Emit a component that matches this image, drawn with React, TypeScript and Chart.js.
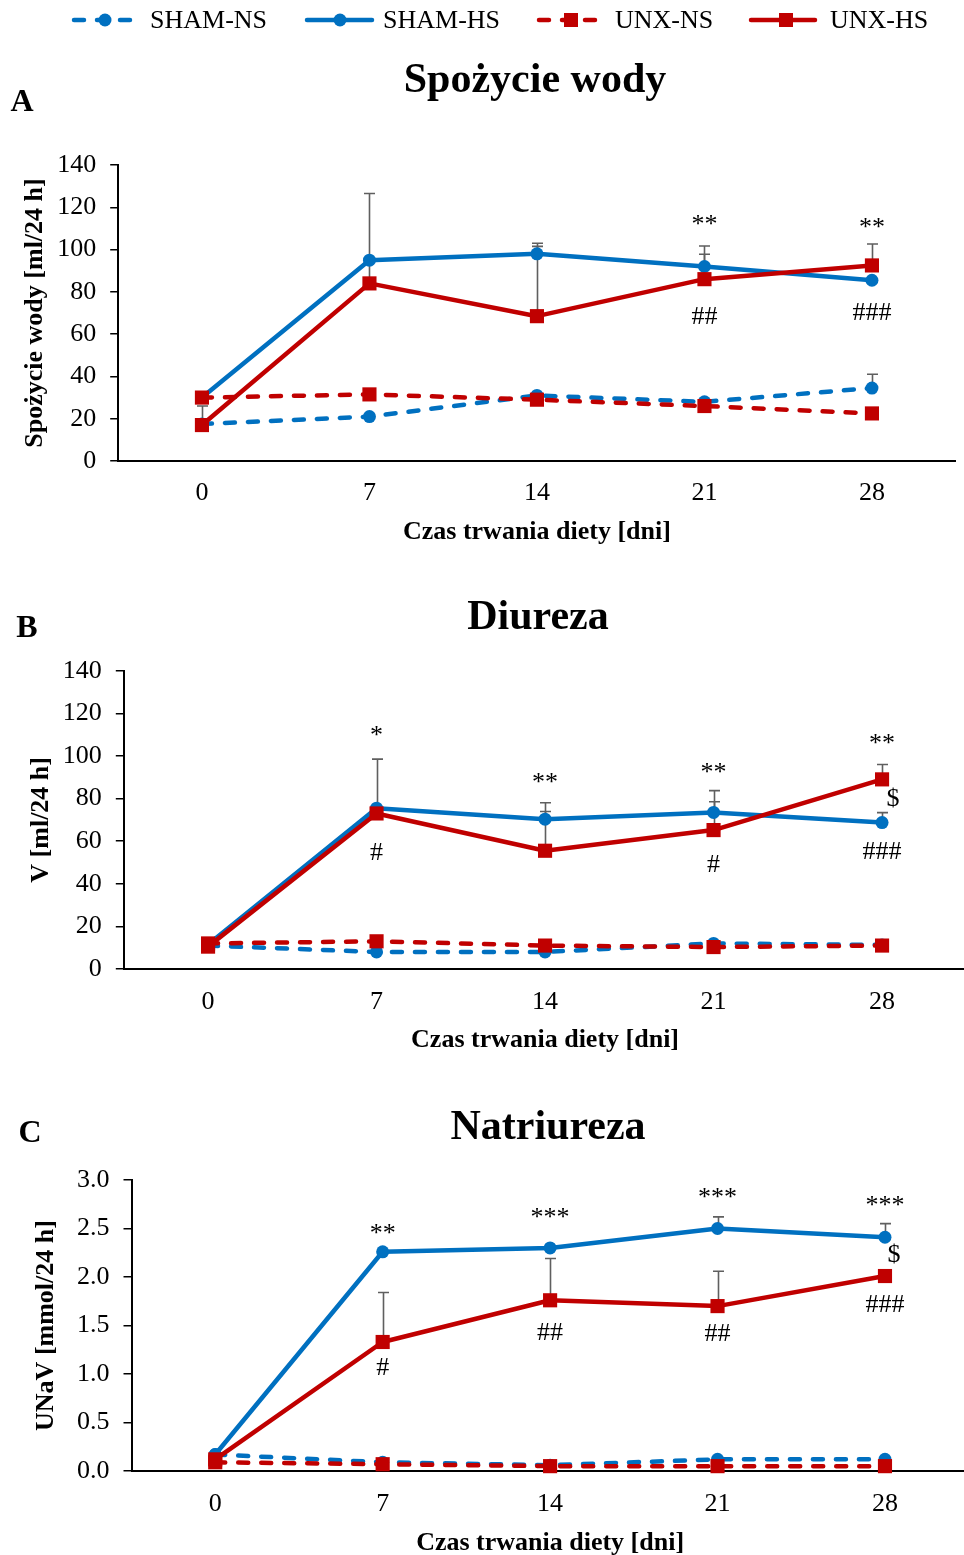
import React, { useEffect, useRef } from 'react';
import { Chart, registerables } from 'chart.js';

Chart.register(...registerables);

// ---------- data ----------
const days = ['0', '7', '14', '21', '28'];
const seriesNames = ['SHAM-NS', 'SHAM-HS', 'UNX-NS', 'UNX-HS'];

// Panel A – Spożycie wody [ml/24 h]
const waterShamNS = [17.5, 21, 31, 28, 34.5];
const waterShamHS = [30, 95, 98, 92, 85.5];
const waterUnxNS = [30, 31.5, 29, 26, 22.5];
const waterUnxHS = [17, 84, 68.5, 86, 92.5];
const waterShamNSsd = [8.5, 0, 0, 0, 6.5];
const waterShamHSsd = [0, 0, 3.5, 5.8, 0];
const waterUnxNSsd = [0, 0, 0, 0, 0];
const waterUnxHSsd = [0, 42.5, 34.5, 15.7, 10.1];
const waterMarks = [
  { day: '21', value: 111.4, text: '**' },
  { day: '28', value: 109.9, text: '**' },
  { day: '21', value: 68, text: '##' },
  { day: '28', value: 70, text: '###' },
];

// Panel B – Diureza V [ml/24 h]
const urineShamNS = [11, 8, 8, 12, 11.3];
const urineShamHS = [11.5, 75.5, 70.3, 73.5, 68.7];
const urineUnxNS = [12, 13, 11, 10.3, 11];
const urineUnxHS = [10.5, 73, 55.5, 65.2, 89];
const urineShamNSsd = [0, 0, 0, 0, 0];
const urineShamHSsd = [0, 23, 3.6, 5, 4.7];
const urineUnxNSsd = [0, 0, 0, 0, 0];
const urineUnxHSsd = [0, 0, 22.5, 18.5, 7];
const urineMarks = [
  { day: '7', value: 109.1, text: '*' },
  { day: '7', value: 54.4, text: '#' },
  { day: '14', value: 87.3, text: '**' },
  { day: '21', value: 91.7, text: '**' },
  { day: '21', value: 48.8, text: '#' },
  { day: '28', value: 105.3, text: '**' },
  { day: '28', value: 79.6, text: '$', dx: 11 },
  { day: '28', value: 54.6, text: '###' },
];

// Panel C – Natriureza UNaV [mmol/24 h]
const sodiumShamNS = [0.17, 0.09, 0.06, 0.12, 0.12];
const sodiumShamHS = [0.17, 2.26, 2.3, 2.5, 2.41];
const sodiumUnxNS = [0.09, 0.07, 0.05, 0.05, 0.05];
const sodiumUnxHS = [0.12, 1.33, 1.76, 1.7, 2.01];
const sodiumShamNSsd = [0, 0, 0, 0, 0];
const sodiumShamHSsd = [0, 0, 0, 0.12, 0.14];
const sodiumUnxNSsd = [0, 0, 0, 0, 0];
const sodiumUnxHSsd = [0, 0.51, 0.43, 0.36, 0];
const sodiumMarks = [
  { day: '7', value: 2.44, text: '**' },
  { day: '7', value: 1.06, text: '#' },
  { day: '14', value: 2.61, text: '***' },
  { day: '14', value: 1.42, text: '##' },
  { day: '21', value: 2.81, text: '***' },
  { day: '21', value: 1.41, text: '##' },
  { day: '28', value: 2.73, text: '***' },
  { day: '28', value: 2.23, text: '$', dx: 9 },
  { day: '28', value: 1.71, text: '###' },
];

// ---------- styles ----------
const BLUE = '#0070C0';
const RED = '#C00000';
const ERR = '#5f5f5f';
const FONT = "'Liberation Serif', 'Times New Roman', serif";
const W = 964;
const CANVAS_W = 980; // wider than the page; the overflow is clipped

const seriesStyles = [
  { color: BLUE, dash: true, point: 'circle' },
  { color: BLUE, dash: false, point: 'circle' },
  { color: RED, dash: true, point: 'rect' },
  { color: RED, dash: false, point: 'rect' },
];

type Mark = { day: string; value: number; text: string; dx?: number };
type Panel = {
  title: string;
  letter: string;
  yTitle: string;
  series: number[][];
  sd: number[][];
  marks: Mark[];
  yMax: number;
  yStep: number;
  decimals: number;
  top: number;
  height: number;
  area: { left: number; top: number; right: number; bottom: number };
  yTitlePad: number;
  xTitlePad: number;
  xTickGap: number;
  titleX: number;
  titleY: number;
  letterX: number;
  letterY: number;
  legend: boolean;
};

const panels: Panel[] = [
  {
    title: 'Spożycie wody', letter: 'A', yTitle: 'Spożycie wody [ml/24 h]',
    series: [waterShamNS, waterShamHS, waterUnxNS, waterUnxHS],
    sd: [waterShamNSsd, waterShamHSsd, waterUnxNSsd, waterUnxHSsd],
    marks: waterMarks, yMax: 140, yStep: 20, decimals: 0,
    top: 0, height: 560, area: { left: 118.2, top: 165, right: 955.7, bottom: 461 },
    yTitlePad: 19.4, xTitlePad: 12.4, xTickGap: 16.4, titleX: 535, titleY: 81, letterX: 22, letterY: 103, legend: true,
  },
  {
    title: 'Diureza', letter: 'B', yTitle: 'V [ml/24 h]',
    series: [urineShamNS, urineShamHS, urineUnxNS, urineUnxHS],
    sd: [urineShamNSsd, urineShamHSsd, urineUnxNSsd, urineUnxHSsd],
    marks: urineMarks, yMax: 140, yStep: 20, decimals: 0,
    top: 560, height: 500, area: { left: 123.8, top: 110.7, right: 966.3, bottom: 409 },
    yTitlePad: 25.2, xTitlePad: 4.4, xTickGap: 17.4, titleX: 538, titleY: 58, letterX: 27, letterY: 69, legend: false,
  },
  {
    title: 'Natriureza', letter: 'C', yTitle: 'UNaV [mmol/24 h]',
    series: [sodiumShamNS, sodiumShamHS, sodiumUnxNS, sodiumUnxHS],
    sd: [sodiumShamNSsd, sodiumShamHSsd, sodiumUnxNSsd, sodiumUnxHSsd],
    marks: sodiumMarks, yMax: 3, yStep: 0.5, decimals: 1,
    top: 1060, height: 495, area: { left: 131.5, top: 120, right: 968.7, bottom: 411 },
    yTitlePad: 30.7, xTitlePad: -3.6, xTickGap: 17.4, titleX: 548, titleY: 68, letterX: 30, letterY: 74, legend: false,
  },
];

// ---------- plugins ----------
function drawMarker(ctx: CanvasRenderingContext2D, kind: string, color: string, x: number, y: number) {
  ctx.fillStyle = color;
  ctx.beginPath();
  if (kind === 'circle') {
    ctx.arc(x, y, 6.5, 0, Math.PI * 2);
  } else {
    ctx.rect(x - 7, y - 7, 14, 14);
  }
  ctx.fill();
}

function makePlugins(p: Panel) {
  const errorBars = {
    id: 'errorBars',
    beforeDatasetsDraw(chart: any) {
      const { ctx } = chart;
      const yScale = chart.scales.y;
      ctx.save();
      ctx.strokeStyle = ERR;
      ctx.lineWidth = 1.6;
      p.sd.forEach((sdArr, i) => {
        const meta = chart.getDatasetMeta(i);
        sdArr.forEach((e, j) => {
          if (!e) return;
          const pt = meta.data[j];
          const v = p.series[i][j];
          const x = Math.round(pt.x) + 0.5;
          const y0 = yScale.getPixelForValue(v);
          const y1 = yScale.getPixelForValue(v + e);
          ctx.beginPath();
          ctx.moveTo(x, y0);
          ctx.lineTo(x, y1);
          ctx.moveTo(x - 5.5, y1);
          ctx.lineTo(x + 5.5, y1);
          ctx.stroke();
        });
      });
      ctx.restore();
    },
  };

  const marks = {
    id: 'marks',
    afterDatasetsDraw(chart: any) {
      const { ctx } = chart;
      const { x, y } = chart.scales;
      ctx.save();
      ctx.font = `26px ${FONT}`;
      ctx.fillStyle = '#000';
      ctx.textAlign = 'center';
      ctx.textBaseline = 'middle';
      p.marks.forEach((m) => {
        const px = x.getPixelForValue(days.indexOf(m.day)) + (m.dx || 0);
        const py = y.getPixelForValue(m.value);
        ctx.fillText(m.text, px, py);
      });
      ctx.restore();
    },
  };

  const panelText = {
    id: 'panelText',
    afterDraw(chart: any) {
      const { ctx } = chart;
      ctx.save();
      ctx.fillStyle = '#000';
      ctx.textBaseline = 'middle';
      ctx.textAlign = 'center';
      ctx.font = `bold 42px ${FONT}`;
      ctx.fillText(p.title, p.titleX, p.titleY);
      ctx.font = `bold 32px ${FONT}`;
      ctx.fillText(p.letter, p.letterX, p.letterY);
      ctx.restore();
    },
  };

  const legendPos = [
    { x1: 74, x2: 137, mx: 105, tx: 150 },
    { x1: 307, x2: 372, mx: 340, tx: 383 },
    { x1: 539, x2: 601, mx: 571, tx: 615 },
    { x1: 751, x2: 815, mx: 786, tx: 830 },
  ];
  const seriesLegend = {
    id: 'seriesLegend',
    afterDraw(chart: any) {
      if (!p.legend) return;
      const { ctx } = chart;
      const ly = 20;
      ctx.save();
      seriesNames.forEach((name, i) => {
        const s = seriesStyles[i];
        const pos = legendPos[i];
        ctx.strokeStyle = s.color;
        ctx.lineWidth = 4.5;
        ctx.lineCap = 'round';
        ctx.setLineDash(s.dash ? [10, 13] : []);
        ctx.beginPath();
        ctx.moveTo(pos.x1, ly);
        ctx.lineTo(pos.x2, ly);
        ctx.stroke();
        ctx.setLineDash([]);
        drawMarker(ctx, s.point, s.color, pos.mx, ly);
        ctx.fillStyle = '#000';
        ctx.font = `26px ${FONT}`;
        ctx.textAlign = 'left';
        ctx.textBaseline = 'middle';
        ctx.fillText(name, pos.tx, ly + 1);
      });
      ctx.restore();
    },
  };

  return [errorBars, marks, panelText, seriesLegend];
}

function makeConfig(p: Panel): any {
  return {
    type: 'line',
    data: {
      labels: days,
      datasets: p.series.map((d, i) => {
        const s = seriesStyles[i];
        return {
          label: seriesNames[i],
          data: d,
          borderColor: s.color,
          backgroundColor: s.color,
          borderWidth: 4.5,
          borderDash: s.dash ? [10, 13] : [],
          borderCapStyle: 'round',
          borderJoinStyle: 'round',
          pointStyle: s.point,
          pointRadius: s.point === 'rect' ? 10 : 6.5,
          pointBorderWidth: 0,
          pointBackgroundColor: s.color,
          pointHoverRadius: s.point === 'rect' ? 10 : 6.5,
          tension: 0,
          fill: false,
          clip: false,
          order: 3 - i,
        };
      }),
    },
    options: {
      responsive: false,
      animation: false,
      events: [],
      layout: {
        autoPadding: false,
        padding: { left: 0, top: p.area.top, right: CANVAS_W - p.area.right, bottom: 0 },
      },
      plugins: {
        legend: { display: false },
        tooltip: { enabled: false },
        title: { display: false },
      },
      scales: {
        x: {
          type: 'category',
          offset: true,
          grid: { display: false, drawTicks: true, tickLength: p.xTickGap },
          border: { display: true, color: '#000', width: 2 },
          ticks: {
            color: '#000',
            font: { family: FONT, size: 26 },
            padding: 0,
            maxRotation: 0,
            autoSkip: false,
          },
          title: {
            display: true,
            text: 'Czas trwania diety [dni]',
            color: '#000',
            font: { family: FONT, size: 26, weight: 'bold' },
            padding: { top: 0, bottom: p.xTitlePad },
          },
          afterFit: (s: any) => {
            s.height = p.height - p.area.bottom;
            s.paddingLeft = 0;
            s.paddingRight = 0;
          },
        },
        y: {
          min: 0,
          max: p.yMax,
          grid: {
            display: true,
            drawOnChartArea: false,
            drawTicks: true,
            tickLength: 8,
            color: '#000',
            lineWidth: 1.5,
          },
          border: { display: true, color: '#000', width: 2 },
          ticks: {
            stepSize: p.yStep,
            color: '#000',
            font: { family: FONT, size: 26 },
            padding: 14,
            callback: (v: number) => Number(v).toFixed(p.decimals),
          },
          title: {
            display: true,
            text: p.yTitle,
            color: '#000',
            font: { family: FONT, size: 26, weight: 'bold' },
            padding: { top: p.yTitlePad, bottom: 0 },
          },
          afterFit: (s: any) => {
            s.width = p.area.left;
          },
        },
      },
    },
    plugins: makePlugins(p),
  };
}

function PanelChart({ p }: { p: Panel }) {
  const ref = useRef<HTMLCanvasElement>(null);
  useEffect(() => {
    if (!ref.current) return;
    const chart = new Chart(ref.current, makeConfig(p));
    return () => chart.destroy();
  }, [p]);
  return (
    <canvas
      ref={ref}
      width={CANVAS_W}
      height={p.height}
      style={{ position: 'absolute', left: 0, top: p.top, display: 'block' }}
    />
  );
}

export default function App() {
  return (
    <div style={{ position: 'absolute', left: 0, top: 0, width: W, height: 1555, background: '#fff', overflow: 'hidden' }}>
      {panels.map((p) => (
        <PanelChart key={p.letter} p={p} />
      ))}
    </div>
  );
}
